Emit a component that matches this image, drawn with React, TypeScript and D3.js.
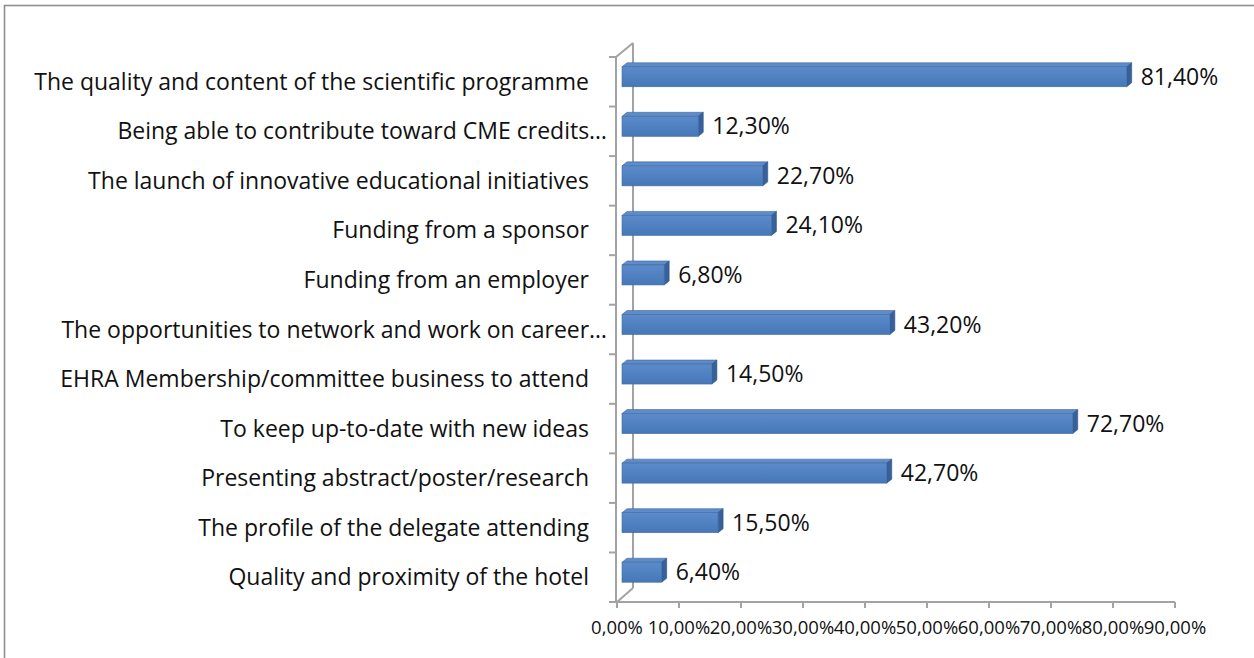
import React from "react";
import * as d3 from "d3";

const categories: string[] = [
  "The quality and content of the scientific programme",
  "Being able to contribute toward CME credits…",
  "The launch of innovative educational initiatives",
  "Funding from a sponsor",
  "Funding from an employer",
  "The opportunities to network and work on career…",
  "EHRA Membership/committee business to attend",
  "To keep up-to-date with new ideas",
  "Presenting abstract/poster/research",
  "The profile of the delegate attending",
  "Quality and proximity of the hotel",
];

const values: number[] = [81.4, 12.3, 22.7, 24.1, 6.8, 43.2, 14.5, 72.7, 42.7, 15.5, 6.4];

const tickValues: number[] = [0, 10, 20, 30, 40, 50, 60, 70, 80, 90];

const W = 1254;
const H = 658;
const FONT = "'Open Sans', 'Noto Sans', sans-serif";

const locale = d3.formatLocale({ decimal: ",", thousands: ".", grouping: [3], currency: ["", "€"] });
const fmt = (v: number) => locale.format(".2f")(v) + "%";

export default function App() {
  const x = d3.scaleLinear().domain([0, 90]).range([617, 1175]);
  const y = d3.scaleBand<string>().domain(categories).range([57, 602]);
  const bw = y.bandwidth();
  const barH = 20;
  const dx = 5;
  const dy = 4;
  const shiftX = 5;
  const shiftY = -5;
  const axisColor = "#A3A3A3";

  return (
    <svg width={W} height={H} style={{ position: "absolute", left: 0, top: 0, background: "#fff" }}>
      <defs>
        <linearGradient id="front" x1="0" y1="0" x2="0" y2="1">
          <stop offset="0" stopColor="#5B8BCB" />
          <stop offset="1" stopColor="#4677B6" />
        </linearGradient>
      </defs>
      <rect x={4.5} y={5.5} width={1400} height={800} fill="#fff" stroke="#8F8F8F" strokeWidth={1.6} />

      {/* back wall edges */}
      <line x1={633} y1={43} x2={633} y2={588} stroke={axisColor} strokeWidth={2} />
      <line x1={616} y1={57} x2={633} y2={43} stroke={axisColor} strokeWidth={2} />
      <line x1={617} y1={602} x2={633} y2={588} stroke={axisColor} strokeWidth={2} />

      {/* vertical axis */}
      <line x1={616} y1={57} x2={616} y2={602} stroke={axisColor} strokeWidth={2} />
      {categories.map((c, i) => (
        <line key={"yt" + i} x1={609} x2={616} y1={y(c)!} y2={y(c)!} stroke={axisColor} strokeWidth={2} />
      ))}
      <line x1={609} x2={616} y1={602} y2={602} stroke={axisColor} strokeWidth={2} />

      {/* horizontal axis */}
      <line x1={609} y1={602} x2={x(90)} y2={602} stroke={axisColor} strokeWidth={2} />
      {tickValues.map((t) => (
        <g key={"xt" + t}>
          <line x1={x(t)} x2={x(t)} y1={602} y2={608} stroke={axisColor} strokeWidth={2} />
          <text x={x(t)} y={634} textAnchor="middle" fontFamily={FONT} fontSize={18.5} fill="#111">
            {fmt(t)}
          </text>
        </g>
      ))}

      {/* bars */}
      {categories.map((c, i) => {
        const v = values[i];
        const x0 = x(0) + shiftX;
        const x1 = x(v) + shiftX;
        const yc = y(c)! + bw / 2 + shiftY;
        const yt = yc - barH / 2;
        const yb = yc + barH / 2;
        return (
          <g key={"b" + i}>
            <polygon
              points={`${x0},${yt} ${x0 + dx},${yt - dy} ${x1 + dx},${yt - dy} ${x1},${yt}`}
              fill="#5E8CC8"
              stroke="#41679A"
              strokeWidth={0.6}
            />
            <polygon
              points={`${x1},${yt} ${x1 + dx},${yt - dy} ${x1 + dx},${yb - dy} ${x1},${yb}`}
              fill="#37619A"
              stroke="#2F5585"
              strokeWidth={0.6}
            />
            <rect x={x0} y={yt} width={x1 - x0} height={barH} fill="url(#front)" stroke="#3F6CA6" strokeWidth={0.6} />
            <text x={x1 + dx + 9} y={yc} dy="0.35em" fontFamily={FONT} fontSize={23} fill="#111">
              {fmt(v)}
            </text>
          </g>
        );
      })}

      {/* category labels */}
      {categories.map((c) => (
        <text
          key={"cl" + c}
          x={c.endsWith("…") ? 607 : 589}
          y={y(c)! + bw / 2}
          dy="0.35em"
          textAnchor="end"
          fontFamily={FONT}
          fontSize={23}
          fill="#111"
        >
          {c}
        </text>
      ))}
    </svg>
  );
}
